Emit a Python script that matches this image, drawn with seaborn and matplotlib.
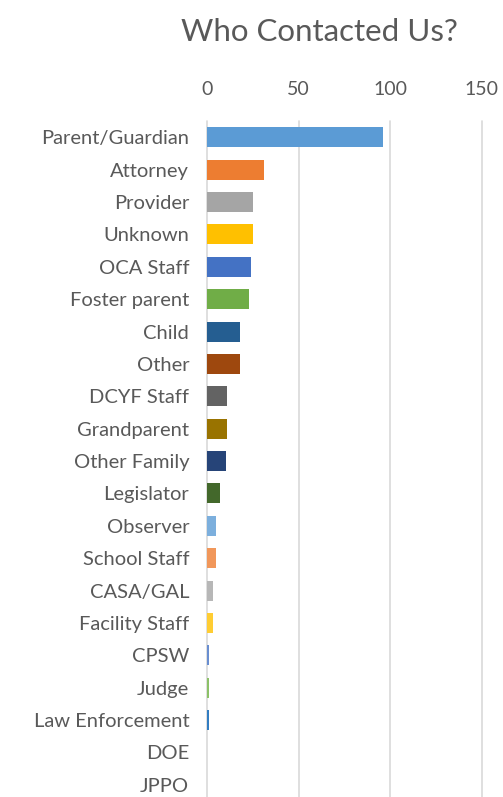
import pandas as pd
import matplotlib.pyplot as plt
import seaborn as sns

categories = ['Parent/Guardian', 'Attorney', 'Provider', 'Unknown', 'OCA Staff',
              'Foster parent', 'Child', 'Other', 'DCYF Staff', 'Grandparent',
              'Other Family', 'Legislator', 'Observer', 'School Staff', 'CASA/GAL',
              'Facility Staff', 'CPSW', 'Judge', 'Law Enforcement', 'DOE', 'JPPO']
counts = [96, 31, 25, 25, 24, 23, 18, 18, 11, 11, 10, 7, 5, 5, 3, 3, 1, 1, 1, 0, 0]
colors = ['#5B9BD5', '#ED7D31', '#A5A5A5', '#FFC000', '#4472C4', '#70AD47',
          '#255E91', '#9E480E', '#636363', '#997300', '#264478', '#43682B',
          '#7CAFDD', '#F1975A', '#B7B7B7', '#FFCD33', '#698ED0', '#8CC168',
          '#327DC2', '#D26012', '#848484']
x_ticks = [0, 50, 100, 150]

df = pd.DataFrame({'who': categories, 'count': counts})

sns.set_style('white')
plt.rcParams['font.family'] = ['Lato', 'DejaVu Sans']

fig = plt.figure(figsize=(5.03, 7.97), dpi=100)
ax = fig.add_axes([0.412, -0.005, 0.5455, 0.853])

sns.barplot(data=df, x='count', y='who', hue='who', palette=colors, orient='h',
            width=0.62, saturation=1, legend=False, ax=ax, edgecolor='none')

ax.set_xlim(0, 150)
ax.set_xticks(x_ticks)
ax.xaxis.tick_top()
ax.tick_params(axis='x', length=0, pad=17, labelsize=14, labelcolor='#595959')
ax.tick_params(axis='y', length=0, pad=13, labelsize=14.5, labelcolor='#595959')
ax.grid(axis='x', color='#D9D9D9', linewidth=1.2, clip_on=False)
ax.set_axisbelow(True)
for s in ax.spines.values():
    s.set_visible(False)
ax.set_xlabel('')
ax.set_ylabel('')

fig.suptitle('Who Contacted Us?', x=0.635, y=0.9775, fontsize=22.5, color='#595959')

fig.savefig('out.png', dpi=100)
